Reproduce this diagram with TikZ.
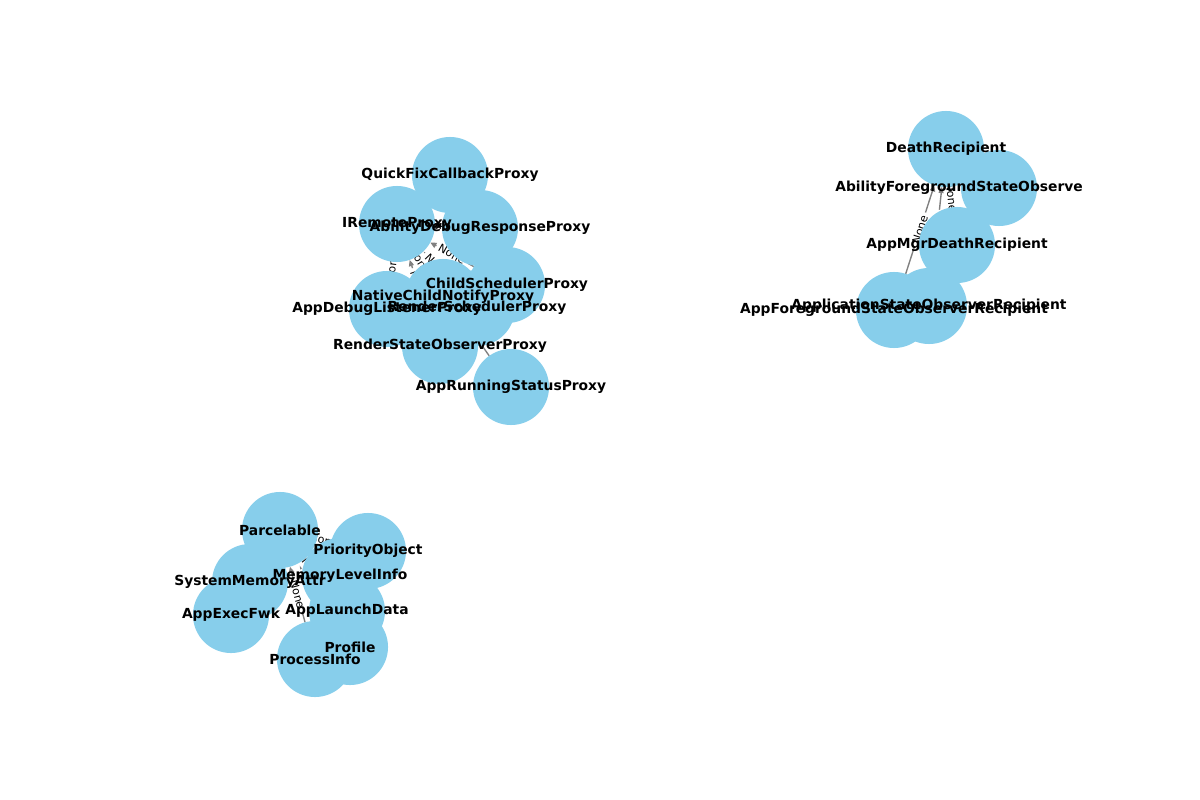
\documentclass[tikz,border=0pt]{standalone}
\usepackage{fontspec}
\setmainfont{DejaVu Sans}
\usetikzlibrary{arrows.meta}
\usetikzlibrary{backgrounds}
\tikzset{>={Triangle[length=4.5pt,width=4pt]}}
\definecolor{skyblue}{RGB}{135,206,235}
\tikzstyle{cls}=[circle, fill=skyblue, minimum size=0.76in, inner sep=0pt, outer sep=0pt]
\tikzstyle{lbl}=[font=\fontsize{10}{12}\selectfont\bfseries, inner sep=0pt]
\tikzstyle{inherit}=[->, draw=gray, line width=1pt]
\tikzstyle{elabel}=[font=\fontsize{8}{9}\selectfont, fill=white, rounded corners=2pt, inner sep=2.4pt, sloped]

\begin{document}
\begin{tikzpicture}[x=0.01in, y=-0.01in]
  \useasboundingbox (0,0) rectangle (1200,800);

  % proxies
  \node[cls] (quickfix) at (450,175) {};
  \node[cls] (iremote) at (397,224) {};
  \node[cls] (abilitydebug) at (480,228) {};
  \node[cls] (childsched) at (507,285) {};
  \node[cls] (nativechild) at (443,297) {};
  \node[cls] (appdebug) at (387,309) {};
  \node[cls] (rendersched) at (477,308) {};
  \node[cls] (renderstate) at (440,346) {};
  \node[cls] (apprunning) at (511,387) {};

  % death recipients
  \node[cls] (death) at (946,149) {};
  \node[cls] (abilityfg) at (999,188) {};
  \node[cls] (appmgr) at (957,245) {};
  \node[cls] (appstate) at (929,306) {};
  \node[cls] (appfg) at (894,310) {};

  % parcelables
  \node[cls] (parcelable) at (280,530) {};
  \node[cls] (priority) at (368,551) {};
  \node[cls] (sysmem) at (250,582) {};
  \node[cls] (memlevel) at (340,576) {};
  \node[cls] (appexec) at (231,615) {};
  \node[cls] (launch) at (347,611) {};
  \node[cls] (profile) at (350,647) {};
  \node[cls] (procinfo) at (315,659) {};

  \begin{pgfonlayer}{background}
    \foreach \n in {quickfix,abilitydebug,childsched,nativechild,appdebug,rendersched,renderstate,apprunning}
      \draw[inherit] (\n) -- (iremote);
    \foreach \n in {abilityfg,appmgr,appstate,appfg}
      \draw[inherit] (\n) -- (death);
    \foreach \n in {priority,sysmem,memlevel,appexec,launch,profile,procinfo}
      \draw[inherit] (\n) -- (parcelable);
    % labels go over all the edges, under the circles
    \foreach \n in {quickfix,abilitydebug,childsched,nativechild,appdebug,rendersched,renderstate,apprunning}
      \path (\n) -- node[elabel] (\n-e) {None} (iremote);
    \foreach \n in {abilityfg,appmgr,appstate,appfg}
      \path (\n) -- node[elabel] (\n-e) {None} (death);
    \foreach \n in {priority,sysmem,memlevel,appexec,launch,profile,procinfo}
      \path (\n) -- node[elabel] (\n-e) {None} (parcelable);
  \end{pgfonlayer}

  \node[lbl] (quickfix-l) at (quickfix) {QuickFixCallbackProxy};
  \node[lbl] (iremote-l) at (iremote) {IRemoteProxy};
  \node[lbl] (abilitydebug-l) at (abilitydebug) {AbilityDebugResponseProxy};
  \node[lbl] (childsched-l) at (childsched) {ChildSchedulerProxy};
  \node[lbl] (nativechild-l) at (nativechild) {NativeChildNotifyProxy};
  \node[lbl] (appdebug-l) at (appdebug) {AppDebugListenerProxy};
  \node[lbl] (rendersched-l) at (rendersched) {RenderSchedulerProxy};
  \node[lbl] (renderstate-l) at (renderstate) {RenderStateObserverProxy};
  \node[lbl] (apprunning-l) at (apprunning) {AppRunningStatusProxy};

  \node[lbl] (death-l) at (death) {DeathRecipient};
  \node[lbl, anchor=west] (abilityfg-l) at (835,188) {AbilityForegroundStateObserve}; % cut off at the axes edge
  \node[lbl] (appmgr-l) at (appmgr) {AppMgrDeathRecipient};
  \node[lbl] (appstate-l) at (appstate) {ApplicationStateObserverRecipient};
  \node[lbl] (appfg-l) at (appfg) {AppForegroundStateObserverRecipient};

  \node[lbl] (parcelable-l) at (parcelable) {Parcelable};
  \node[lbl] (priority-l) at (priority) {PriorityObject};
  \node[lbl] (sysmem-l) at (sysmem) {SystemMemoryAttr};
  \node[lbl] (memlevel-l) at (memlevel) {MemoryLevelInfo};
  \node[lbl] (appexec-l) at (appexec) {AppExecFwk};
  \node[lbl] (launch-l) at (launch) {AppLaunchData};
  \node[lbl] (profile-l) at (profile) {Profile};
  \node[lbl] (procinfo-l) at (procinfo) {ProcessInfo};
\end{tikzpicture}
\end{document}
